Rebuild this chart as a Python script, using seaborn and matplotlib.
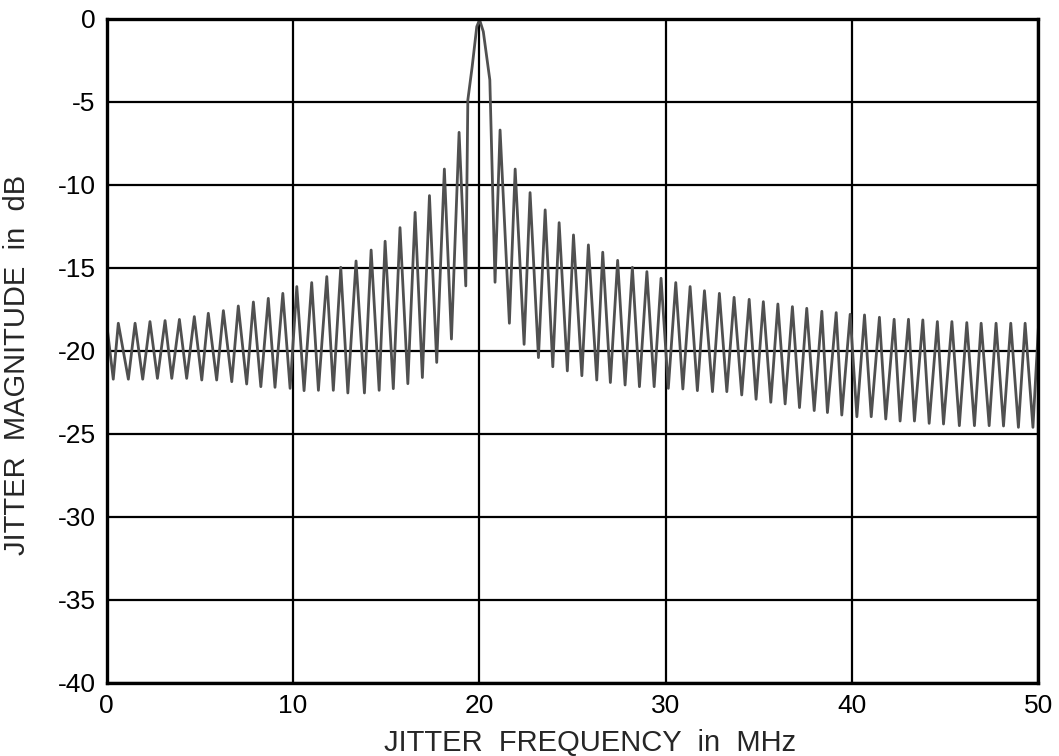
import numpy as np
import pandas as pd
import matplotlib
matplotlib.use('Agg')
import matplotlib.pyplot as plt
import seaborn as sns

# ==================== data ====================
# vertices of the jitter spectrum trace: alternating nulls / lobe peaks
freq_left_mhz = [
    0.0, 0.35, 0.62, 1.16, 1.52, 1.93, 2.32, 2.72, 3.13, 3.49, 3.90, 4.29,
    4.70, 5.10, 5.45, 5.90, 6.26, 6.71, 7.06, 7.51, 7.87, 8.27, 8.67, 9.03,
    9.45, 9.84, 10.20, 10.59, 11.00, 11.36, 11.81, 12.16, 12.56, 12.94,
    13.38, 13.83, 14.19, 14.62, 14.94, 15.38, 15.74, 16.16, 16.55, 16.94,
    17.32, 17.71, 18.12, 18.50, 18.91, 19.27,
]
mag_left_db = [
    -18.4, -21.7, -18.33, -21.7, -18.33, -21.7, -18.23, -21.65, -18.17, -21.65,
    -18.1, -21.65, -17.93, -21.75, -17.73, -21.75, -17.57, -21.85, -17.29,
    -21.99, -17.05, -22.15, -16.83, -22.19, -16.53, -22.25, -16.12, -22.39,
    -15.88, -22.37, -15.52, -22.37, -14.96, -22.53, -14.58, -22.53, -13.92,
    -22.37, -13.39, -22.27, -12.57, -21.97, -11.65, -21.6, -10.64, -20.69,
    -9.04, -19.28, -6.83, -16.08,
]

# main lobe around 20 MHz
freq_main_mhz = [19.38, 19.61, 19.86, 20.01, 20.21, 20.56]
mag_main_db = [-4.88, -2.9, -0.46, -0.05, -0.76, -3.67]

freq_right_mhz = [
    20.84, 21.11, 21.61, 21.92, 22.40, 22.72, 23.17, 23.53, 23.94, 24.28,
    24.72, 25.05, 25.50, 25.85, 26.30, 26.62, 27.03, 27.42, 27.82, 28.21,
    28.59, 28.99, 29.38, 29.75, 30.14, 30.54, 30.92, 31.31, 31.70, 32.08,
    32.51, 32.88, 33.28, 33.67, 34.08, 34.48, 34.85, 35.24, 35.64, 36.02,
    36.41, 36.80, 37.18, 37.57, 37.97, 38.38, 38.68, 39.15, 39.45, 39.90,
    40.26, 40.67, 41.03, 41.47, 41.81, 42.26, 42.58, 43.03, 43.35, 43.80,
    44.14, 44.58, 44.91, 45.36, 45.76, 46.16, 46.57, 46.93, 47.36, 47.73,
    48.13, 48.52, 48.93, 49.29, 49.71, 50.0,
]
mag_right_db = [
    -15.86, -6.69, -18.33, -9.04, -19.6, -10.46, -20.4, -11.5, -20.95, -12.27,
    -21.2, -13.01, -21.49, -13.61, -21.75, -14.05, -21.9, -14.54, -22.05,
    -14.96, -22.15, -15.22, -22.15, -15.62, -22.25, -15.88, -22.29, -16.12,
    -22.39, -16.37, -22.45, -16.53, -22.45, -16.77, -22.65, -16.89, -22.91,
    -17.03, -23.09, -17.17, -23.19, -17.33, -23.41, -17.43, -23.59, -17.61,
    -23.71, -17.69, -23.86, -17.79, -23.96, -17.83, -23.96, -17.97, -24.1,
    -18.09, -24.22, -18.09, -24.22, -18.13, -24.36, -18.23, -24.4, -18.23,
    -24.5, -18.29, -24.5, -18.33, -24.5, -18.33, -24.52, -18.33, -24.6,
    -18.33, -24.6, -18.63,
]

x_ticks = [0, 10, 20, 30, 40, 50]
y_ticks = [0, -5, -10, -15, -20, -25, -30, -35, -40]

# ==================== style ====================
sns.set_theme(style='white')
plt.rcParams['font.family'] = ['Liberation Sans', 'DejaVu Sans']
plt.rcParams['axes.unicode_minus'] = False

df = pd.DataFrame({
    'freq': freq_left_mhz + freq_main_mhz + freq_right_mhz,
    'mag': mag_left_db + mag_main_db + mag_right_db,
})

fig = plt.figure(figsize=(10.59, 7.56), dpi=100)
ax = fig.add_axes([0.1008, 0.0966, 0.8797, 0.8783])

sns.lineplot(data=df, x='freq', y='mag', ax=ax, sort=False, estimator=None,
             color='#505050', linewidth=2.0)
ax.lines[0].set_solid_joinstyle('round')

ax.set_xlim(0, 50)
ax.set_ylim(-40, 0)
ax.set_xticks(x_ticks)
ax.set_yticks(y_ticks)
ax.set_xticklabels([str(t) for t in x_ticks])
ax.set_yticklabels([str(t) for t in y_ticks])
ax.grid(True, color='black', linewidth=1.6)
ax.set_axisbelow(True)
for s in ax.spines.values():
    s.set_color('black')
    s.set_linewidth(2.4)
ax.tick_params(axis='both', length=0, labelsize=19, colors='black')
ax.tick_params(axis='x', pad=8)
ax.tick_params(axis='y', pad=8)

ax.set_xlabel('JITTER  FREQUENCY  in  MHz', fontsize=21, va='top')
ax.xaxis.set_label_coords(0.519, -0.070)
ax.set_ylabel('JITTER  MAGNITUDE  in  dB', fontsize=21)
ax.yaxis.set_label_coords(-0.081, 0.479)

fig.savefig('out.png', dpi=100)
plt.close(fig)
